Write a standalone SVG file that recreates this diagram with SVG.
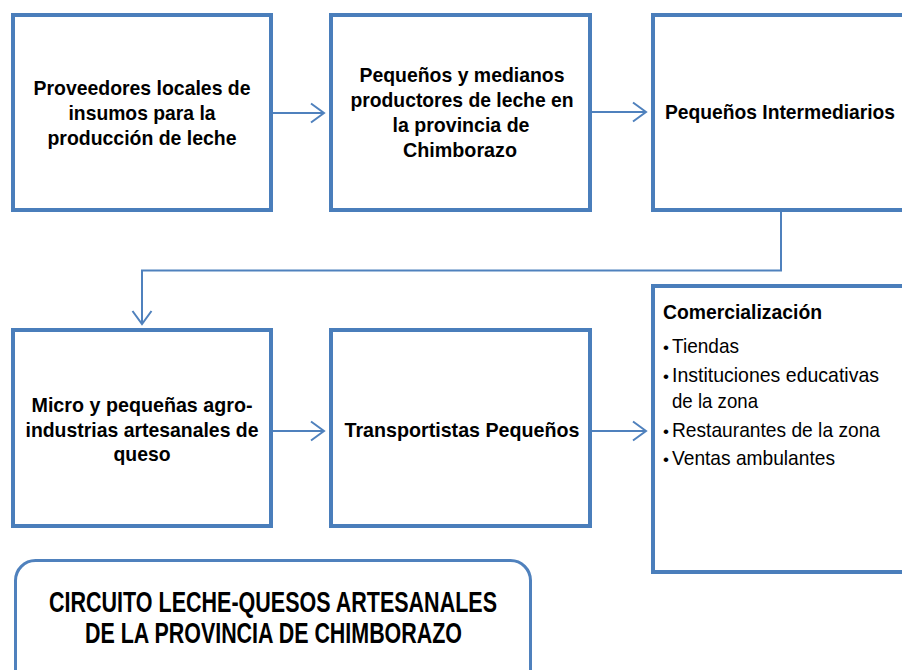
<svg xmlns="http://www.w3.org/2000/svg" width="902" height="670" viewBox="0 0 902 670">
  <style>
    .box { fill: #ffffff; stroke: #4a7ebb; stroke-width: 4; }
    .title-box { fill: #ffffff; stroke: #4f81bd; stroke-width: 3; }
    .conn { fill: none; stroke: #4f81bd; stroke-width: 2; }
    .t { font-family: "Liberation Sans", Arial, sans-serif; font-size: 21px; font-weight: bold; fill: #000000; text-anchor: middle; }
    .h { font-family: "Liberation Sans", Arial, sans-serif; font-size: 21px; font-weight: bold; fill: #000000; }
    .li { font-family: "Liberation Sans", Arial, sans-serif; font-size: 21px; fill: #000000; }
    .dot { font-family: "Liberation Sans", Arial, sans-serif; font-size: 17px; fill: #000000; }
    .ttl { font-family: "Liberation Sans", Arial, sans-serif; font-size: 29px; font-weight: bold; fill: #000000; text-anchor: middle; }
  </style>
  <defs>
    <marker id="arrow" markerUnits="userSpaceOnUse" viewBox="-2 -2 18 24" markerWidth="18" markerHeight="24" refX="13" refY="9.5" orient="auto" overflow="visible">
      <path d="M0,0 L13,9.5 L0,19" fill="none" stroke="#4f81bd" stroke-width="2"/>
    </marker>
  </defs>
  <rect width="902" height="670" fill="#ffffff"/>

  <g id="connectors">
    <path class="conn" d="M273,113 H324" marker-end="url(#arrow)"/>
    <path class="conn" d="M592,112 H646" marker-end="url(#arrow)"/>
    <path class="conn" d="M781,212 V270.5 H142 V324" marker-end="url(#arrow)"/>
    <path class="conn" d="M273,431 H324" marker-end="url(#arrow)"/>
    <path class="conn" d="M592,431 H646" marker-end="url(#arrow)"/>
  </g>

  <g id="proveedores">
    <rect class="box" x="13" y="15" width="258" height="195"/>
    <text class="t" x="142" y="95" textLength="217" lengthAdjust="spacingAndGlyphs">Proveedores locales de</text>
    <text class="t" x="142" y="120" textLength="147" lengthAdjust="spacingAndGlyphs">insumos para la</text>
    <text class="t" x="142" y="145" textLength="189" lengthAdjust="spacingAndGlyphs">producción de leche</text>
  </g>

  <g id="productores">
    <rect class="box" x="331" y="15" width="259" height="195"/>
    <text class="t" x="462" y="82" textLength="205" lengthAdjust="spacingAndGlyphs">Pequeños y medianos</text>
    <text class="t" x="462" y="107" textLength="223" lengthAdjust="spacingAndGlyphs">productores de leche en</text>
    <text class="t" x="461" y="132" textLength="137" lengthAdjust="spacingAndGlyphs">la provincia de</text>
    <text class="t" x="460" y="157" textLength="114" lengthAdjust="spacingAndGlyphs">Chimborazo</text>
  </g>

  <g id="intermediarios">
    <rect class="box" x="653" y="15" width="260" height="195"/>
    <text class="t" x="780" y="119" textLength="230" lengthAdjust="spacingAndGlyphs">Pequeños Intermediarios</text>
  </g>

  <g id="agroindustrias">
    <rect class="box" x="13" y="330" width="258" height="196"/>
    <text class="t" x="142" y="412" textLength="221" lengthAdjust="spacingAndGlyphs">Micro y pequeñas agro-</text>
    <text class="t" x="142" y="437" textLength="233" lengthAdjust="spacingAndGlyphs">industrias artesanales de</text>
    <text class="t" x="142" y="461" textLength="57" lengthAdjust="spacingAndGlyphs">queso</text>
  </g>

  <g id="transportistas">
    <rect class="box" x="331" y="330" width="259" height="196"/>
    <text class="t" x="462" y="437" textLength="235" lengthAdjust="spacingAndGlyphs">Transportistas Pequeños</text>
  </g>

  <g id="comercializacion">
    <rect class="box" x="653" y="286" width="260" height="286"/>
    <text class="h" x="663" y="319" textLength="159" lengthAdjust="spacingAndGlyphs">Comercialización</text>
    <text class="dot" x="663" y="353">•</text>
    <text class="li" x="672" y="353" textLength="67" lengthAdjust="spacingAndGlyphs">Tiendas</text>
    <text class="dot" x="663" y="382">•</text>
    <text class="li" x="672" y="382" textLength="207" lengthAdjust="spacingAndGlyphs">Instituciones educativas</text>
    <text class="li" x="672" y="408" textLength="86" lengthAdjust="spacingAndGlyphs">de la zona</text>
    <text class="dot" x="663" y="437">•</text>
    <text class="li" x="672" y="437" textLength="208" lengthAdjust="spacingAndGlyphs">Restaurantes de la zona</text>
    <text class="dot" x="663" y="465">•</text>
    <text class="li" x="672" y="465" textLength="163" lengthAdjust="spacingAndGlyphs">Ventas ambulantes</text>
  </g>

  <g id="titulo">
    <rect class="title-box" x="15.5" y="560.5" width="515" height="130" rx="20" ry="20"/>
    <text class="ttl" x="273" y="612" textLength="448" lengthAdjust="spacingAndGlyphs">CIRCUITO LECHE-QUESOS ARTESANALES</text>
    <text class="ttl" x="273.5" y="643" textLength="377" lengthAdjust="spacingAndGlyphs">DE LA PROVINCIA DE CHIMBORAZO</text>
  </g>
</svg>
